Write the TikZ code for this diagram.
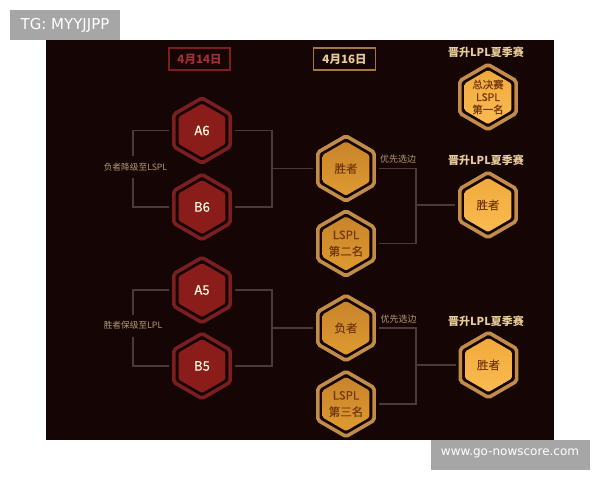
\documentclass[tikz,border=0pt]{standalone}
\usepackage{fontspec}
\setmainfont{Noto Sans CJK SC}
\newfontfamily\badgefont{DejaVu Sans}
\newfontfamily\medfont[FakeBold=0.5]{Noto Sans CJK SC}
\usetikzlibrary{shapes.geometric}
\definecolor{bgc}{HTML}{150505}
\definecolor{ringred}{HTML}{7A1E20}
\definecolor{fillred}{HTML}{8A1D1A}
\definecolor{ringgold}{HTML}{C08C48}
\definecolor{gA}{HTML}{C8842A}
\definecolor{gB}{HTML}{DE9A30}
\definecolor{gC}{HTML}{F0AA3C}
\definecolor{gD}{HTML}{FBBB50}
\definecolor{conn}{HTML}{4A3B38}
\definecolor{head}{HTML}{E8CC98}
\definecolor{soft}{HTML}{B39A72}
\definecolor{brownt}{HTML}{74380F}
\tikzset{
 x=1pt,y=-1pt,
 hexo/.style={regular polygon,regular polygon sides=6,shape border rotate=30,minimum size=65pt,inner sep=0pt,line width=3.6pt,rounded corners=2pt,draw=#1},
 hexi/.style={regular polygon,regular polygon sides=6,shape border rotate=30,minimum size=54pt,inner sep=0pt,rounded corners=1.5pt},
 redi/.style={hexi,fill=fillred},
 goldi/.style={hexi,top color=gA,bottom color=gB},
 goldj/.style={hexi,top color=gC,bottom color=gD},
 hext/.style={inner sep=0pt,align=center,text=brownt,font=\medfont\fontsize{11.5}{16.5}\selectfont},
 hexr/.style={inner sep=0pt,text=white!88!yellow,font=\medfont\fontsize{13}{15}\selectfont},
 hexf/.style={inner sep=0pt,align=center,text=brownt,font=\medfont\fontsize{10.4}{12.5}\selectfont},
 wire/.style={draw=conn,line width=1.2pt},
 heading/.style={text=head,font=\fontsize{11}{13}\selectfont\bfseries,inner sep=0pt},
 note/.style={text=soft,font=\fontsize{8.7}{10}\selectfont,inner sep=0pt},
 notes/.style={text=soft,font=\fontsize{9}{10}\selectfont,inner sep=0pt},
 gap/.style={shorten <=3pt},
 badge/.style={text=white,inner sep=0pt,anchor=center},
}
\newcommand{\hexnode}[7]{% name, x, y, ring, innerstyle, textstyle, text
 \node[hexo=#4] (#1) at (#2,#3) {};
 \node[#5] (#1i) at (#2,#3) {};
 \node[#6] (#1t) at (#2,#3) {#7};
}
\begin{document}
\begin{tikzpicture}
\useasboundingbox (0,0) rectangle (600,480);
\fill[white] (0,0) rectangle (600,480);
\fill[bgc] (46,40) rectangle (554,440);
\fill[black!35] (10,10) rectangle (120,40);
\fill[black!35] (431,440) rectangle (590,470);
\node[badge,font=\badgefont\fontsize{15}{16}\selectfont] (tg) at (65,25.5) {TG: MYYJJPP};
\node[badge,font=\badgefont\fontsize{12}{14}\selectfont] (web) at (510,453) {www.go-nowscore.com};

\node[draw=ringred,line width=1.2pt,minimum width=61pt,minimum height=22pt,inner sep=0pt,text={rgb,255:red,165;green,45;blue,55},font=\fontsize{11.5}{12}\selectfont\bfseries] (d1) at (199.5,59) {4月14日};
\node[draw=ringgold!85!black,line width=1.2pt,minimum width=62pt,minimum height=22pt,inner sep=0pt,text=head,font=\fontsize{11.5}{12}\selectfont\bfseries] (d2) at (344.5,59) {4月16日};
\node[heading] (h1) at (486,52.5) {晋升LPL夏季赛};
\node[heading] (h2) at (486,160.5) {晋升LPL夏季赛};
\node[heading] (h3) at (486,321.5) {晋升LPL夏季赛};

\hexnode{A6}{202}{130.5}{ringred}{redi}{hexr}{A6}
\hexnode{B6}{202}{207}{ringred}{redi}{hexr}{B6}
\hexnode{A5}{202}{290}{ringred}{redi}{hexr}{A5}
\hexnode{B5}{202}{366}{ringred}{redi}{hexr}{B5}
\hexnode{W1}{346}{168.5}{ringgold}{goldi}{hext}{胜者}
\hexnode{L2}{346}{243.5}{ringgold}{goldi}{hext}{LSPL\\第二名}
\hexnode{W2}{346}{328}{ringgold}{goldi}{hext}{负者}
\hexnode{L3}{346}{404}{ringgold}{goldi}{hext}{LSPL\\第三名}
\hexnode{F1}{488}{97}{ringgold}{goldj}{hexf}{总决赛\\LSPL\\第一名}
\hexnode{F2}{488}{205}{ringgold}{goldj}{hext}{胜者}
\hexnode{F3}{488.5}{365}{ringgold}{goldj}{hext}{胜者}

\node[note] (n1) at (135.5,167) {负者降级至LSPL};
\node[note] (n2) at (133,325.5) {胜者保级至LPL};
\node[notes] (n3) at (398,159) {优先选边};
\node[notes] (n4) at (398.5,319) {优先选边};

% left brackets
\coordinate (c1) at (133,156); \coordinate (c2) at (133,178);
\coordinate (c3) at (133,315); \coordinate (c4) at (133,337);
\draw[wire,gap] (A6.west) -| (c1);
\draw[wire,gap] (B6.west) -| (c2);
\draw[wire,gap] (A5.west) -| (c3);
\draw[wire,gap] (B5.west) -| (c4);
% right brackets
\coordinate (r1) at (272,168.5); \coordinate (r2) at (272,328);
\draw[wire,gap] (A6.east) -| (r1);
\draw[wire,gap] (B6.east) -| (r1);
\draw[wire,shorten >=3pt] (r1) -- (W1.west);
\draw[wire,gap] (A5.east) -| (r2);
\draw[wire,gap] (B5.east) -| (r2);
\draw[wire,shorten >=3pt] (r2) -- (W2.west);
\coordinate (r3) at (416,205); \coordinate (r4) at (416,365);
\draw[wire,gap] (W1.east) -| (r3);
\draw[wire,gap] (L2.east) -| (r3);
\draw[wire,shorten >=3pt] (r3) -- (F2.west);
\draw[wire,gap] (W2.east) -| (r4);
\draw[wire,gap] (L3.east) -| (r4);
\draw[wire,shorten >=3pt] (r4) -- (F3.west);
\end{tikzpicture}
\end{document}
